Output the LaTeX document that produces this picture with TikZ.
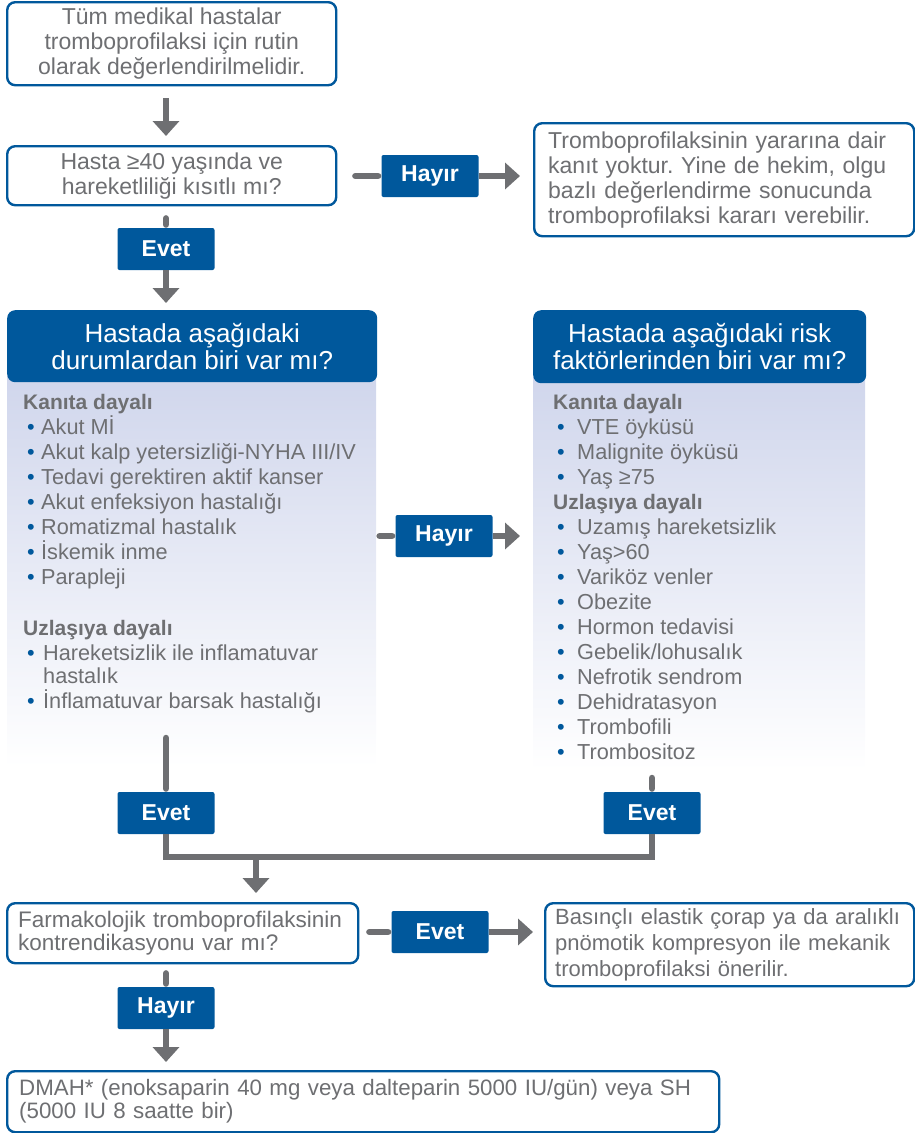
\documentclass[tikz,border=0pt]{standalone}
\usepackage{fontspec}
\setmainfont{Liberation Sans}
\usetikzlibrary{arrows.meta,positioning}
\definecolor{hblue}{RGB}{0,88,156}
\definecolor{hgray}{RGB}{110,111,114}
\definecolor{hshade}{RGB}{208,214,236}
\newcommand{\lbul}[1][18pt]{\makebox[#1][l]{\hspace{4pt}{\color{hblue}\textbullet}}}
\frenchspacing
\tikzset{
  box/.style={draw=hblue, line width=2.4pt, rounded corners=8pt, fill=white, text=hgray,
    anchor=north west, inner sep=0pt, font=\fontsize{23}{25}\selectfont},
  tag/.style={fill=hblue, rounded corners=2pt, text=white, minimum width=97pt,
    minimum height=42pt, inner sep=0pt, font=\bfseries\fontsize{23}{25}\selectfont},
  head/.style={fill=hblue, rounded corners=8pt, text=white, anchor=north west,
    align=center, inner sep=0pt, font=\fontsize{26}{27}\selectfont},
  panel/.style={top color=hshade, bottom color=white, anchor=north west, inner sep=0pt},
  list/.style={text=hgray, anchor=north west, align=left, inner sep=0pt,
    font=\fontsize{21.7}{25}\selectfont},
  link/.style={draw=hgray, line width=6.5pt, line cap=round},
  arr/.style={draw=hgray, line width=6.5pt, -{Triangle[width=26pt,length=15pt]}},
}
\begin{document}
\begin{tikzpicture}[x=1pt,y=-1pt]
\useasboundingbox (0,0) rectangle (915,1133);

\node[box, minimum width=329pt, minimum height=83pt, align=center] (start) at (6,1)
  {Tüm medikal hastalar\\tromboprofilaksi için rutin\\olarak değerlendirilmelidir.};
\node[box, minimum width=329pt, minimum height=59pt, align=center] (age) at (6,145)
  {Hasta ≥40 yaşında ve\\hareketliliği kısıtlı mı?};
\node[tag] (hayir1) at (430,176) {Hayır};
\node[box, text width=352pt, inner xsep=14pt, minimum height=113pt, align=left] (noev) at (533,122)
  {Tromboprofilaksinin yararına dair\\kanıt yoktur. Yine de hekim, olgu\\bazlı değerlendirme sonucunda\\tromboprofilaksi kararı verebilir.};
\node[tag] (evet1) at (166,249) {Evet};

% left panel
\node[panel, minimum width=369pt, minimum height=391pt] (bodyL) at (7,376) {};
\node[head, minimum width=370pt, minimum height=72pt] (hdrL) at (7,310)
  {Hastada aşağıdaki\\durumlardan biri var mı?};
\node[list] (listL) at (23,394) {{\bfseries\fontsize{21}{25}\selectfont Kanıta dayalı}\\
  \lbul Akut Mİ\\
  \lbul Akut kalp yetersizliği-NYHA III/IV\\
  \lbul Tedavi gerektiren aktif kanser\\
  \lbul Akut enfeksiyon hastalığı\\
  \lbul Romatizmal hastalık\\
  \lbul İskemik inme\\
  \lbul Parapleji\\[26pt]
  {\bfseries\fontsize{21}{25}\selectfont Uzlaşıya dayalı}\\
  \lbul[20pt]Hareketsizlik ile inflamatuvar\\[-2pt]
  \hspace*{20pt}hastalık\\
  \lbul[20pt]İnflamatuvar barsak hastalığı};
\node[tag] (hayir2) at (444,536) {Hayır};

% right panel
\node[panel, minimum width=332pt, minimum height=393pt] (bodyR) at (533,377) {};
\node[head, minimum width=333pt, minimum height=73pt] (hdrR) at (533,310)
  {Hastada aşağıdaki risk\\faktörlerinden biri var mı?};
\node[list] (listR) at (553,394) {{\bfseries\fontsize{21}{25}\selectfont Kanıta dayalı}\\
  \lbul[24pt]VTE öyküsü\\
  \lbul[24pt]Malignite öyküsü\\
  \lbul[24pt]Yaş ≥75\\
  {\bfseries\fontsize{21}{25}\selectfont Uzlaşıya dayalı}\\
  \lbul[24pt]Uzamış hareketsizlik\\
  \lbul[24pt]Yaş>60\\
  \lbul[24pt]Variköz venler\\
  \lbul[24pt]Obezite\\
  \lbul[24pt]Hormon tedavisi\\
  \lbul[24pt]Gebelik/lohusalık\\
  \lbul[24pt]Nefrotik sendrom\\
  \lbul[24pt]Dehidratasyon\\
  \lbul[24pt]Trombofili\\
  \lbul[24pt]Trombositoz};

\node[tag] (evet3) at (166,813) {Evet};
\node[tag] (evet4) at (652,813) {Evet};
\coordinate (stemL) at (166,738);
\coordinate (stemR) at (652,778);
\coordinate (join) at (256,857);

\node[box, text width=329pt, inner xsep=11pt, minimum height=60pt, align=left,
  font=\fontsize{22.5}{23}\selectfont] (farm) at (6,902)
  {Farmakolojik tromboprofilaksinin\\kontrendikasyonu var mı?};
\node[tag] (evet5) at (440,932) {Evet};
\node[box, text width=349pt, inner xsep=10pt, minimum height=83pt, align=left,
  font=\fontsize{22}{26}\selectfont] (basinc) at (544,902)
  {Basınçlı elastik çorap ya da aralıklı\\pnömotik kompresyon ile mekanik\\tromboprofilaksi önerilir.};
\node[tag] (hayir3) at (166,1008) {Hayır};
\node[box, text width=688pt, inner xsep=12pt, minimum height=61pt, align=left,
  font=\fontsize{22.3}{23}\selectfont] (dmah) at (6,1070)
  {DMAH* (enoksaparin 40 mg veya dalteparin 5000 IU/gün) veya SH\\(5000 IU 8 saatte bir)};

% connectors
\draw[arr, shorten <=12pt, shorten >=9pt] (start.south -| evet1) -- (age.north -| evet1);
\draw[link, shorten <=18pt, shorten >=3.25pt] (age.east |- hayir1) -- (hayir1.west);
\draw[arr, shorten >=13pt] (hayir1.east) -- (noev.west |- hayir1);
\draw[link, shorten <=12pt, shorten >=3.25pt] (age.south -| evet1) -- (evet1.north);
\draw[arr, shorten >=7pt] (evet1.south) -- (hdrL.north -| evet1);
\draw[link, shorten <=3.25pt, shorten >=3.25pt] (bodyL.east |- hayir2) -- (hayir2.west);
\draw[arr, shorten >=13pt] (hayir2.east) -- (bodyR.west |- hayir2);
\draw[link, shorten >=3.25pt] (stemL) -- (evet3.north);
\draw[link, shorten >=3.25pt] (stemR) -- (evet4.north);
\draw[draw=hgray, line width=6.5pt] (evet3.south) |- (join) -| (evet4.south);
\draw[arr, shorten >=9pt] (join) -- (farm.north -| join);
\draw[link, shorten <=10pt, shorten >=3.25pt] (farm.east |- evet5) -- (evet5.west);
\draw[arr, shorten >=11pt] (evet5.east) -- (basinc.west |- evet5);
\draw[link, shorten <=9pt, shorten >=3.25pt] (farm.south -| hayir3) -- (hayir3.north);
\draw[arr, shorten >=8pt] (hayir3.south) -- (dmah.north -| hayir3);
\end{tikzpicture}
\end{document}
